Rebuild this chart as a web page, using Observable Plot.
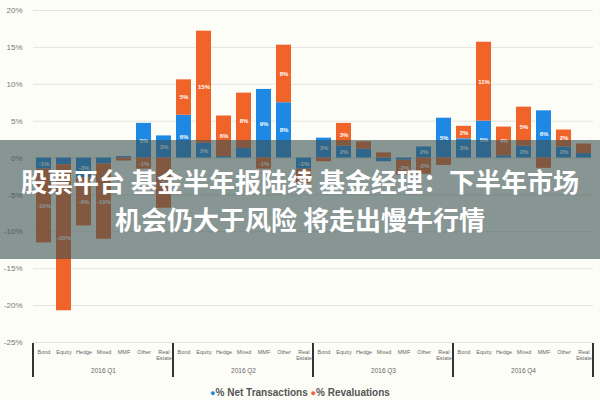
<!DOCTYPE html>
<html><head><meta charset="utf-8">
<script src="https://cdn.jsdelivr.net/npm/d3@7"></script>
<script src="https://cdn.jsdelivr.net/npm/@observablehq/plot@0.6"></script>
<style>
body{margin:0;background:#fdfdf8;width:600px;height:400px;overflow:hidden;position:relative;font-family:"Liberation Sans",Arial,sans-serif}
#chart{position:absolute;left:0;top:0}
#band{position:absolute;left:0;top:140px;width:600px;height:119px;background:rgba(57,80,80,0.6);color:#fff;font-family:"Noto Sans CJK SC",sans-serif;font-weight:700;font-size:26px;line-height:38px;text-align:center;display:flex;flex-direction:column;justify-content:center}
#legend{position:absolute;left:0;top:386px;width:600px;text-align:center;font-size:10px;font-weight:bold;color:#555;line-height:14px}
#legend .dot{font-size:9px}
</style></head><body>
<div id="chart"></div>
<div id="legend"></div>
<div id="band"><div>股票平台 基金半年报陆续 基金经理：下半年市场</div><div>机会仍大于风险 将走出慢牛行情</div></div>
<script>
const quarters = ["2016 Q1", "2016 Q2", "2016 Q3", "2016 Q4"];
const categories = ["Bond", "Equity", "Hedge", "Mixed", "MMF", "Other", "Real Estate"];
const seriesNames = ["% Net Transactions", "% Revaluations"];
// values in percent, one row per quarter, one entry per category
const netTransactions = [
  [-1.5, -0.9, -2.7, -0.8, 0.2, 4.7, 3.0],
  [5.8, 2.0, 0.2, 1.3, 9.3, 7.5, -1.5],
  [2.7, 1.6, 1.2, -0.5, -0.3, 1.5, 5.4],
  [2.6, 5.0, 0.3, 1.6, 6.4, 1.5, 0.6]
];
const revaluations = [
  [-10.0, -19.8, -6.5, -10.2, -0.4, -1.5, -6.8],
  [4.8, 15.2, 5.5, 7.5, -1.5, 7.8, -2.0],
  [-0.5, 3.1, 1.0, 0.7, -2.0, -2.2, -1.0],
  [1.7, 10.7, 3.9, 5.3, -1.4, 2.3, 1.3]
];
const yTicks = [-25, -20, -15, -10, -5, 0, 5, 10, 15, 20];
const colors = ["#1e88e5", "#f0642a"];

const rows = [];
quarters.forEach((q, i) => categories.forEach((c, j) => {
  rows.push({quarter: q, category: c, series: seriesNames[0], value: netTransactions[i][j]});
  rows.push({quarter: q, category: c, series: seriesNames[1], value: revaluations[i][j]});
}));

const chart = Plot.plot({
  width: 600, height: 384,
  marginTop: 10, marginBottom: 42, marginLeft: 33, marginRight: 7,
  style: {background: "transparent", fontFamily: "Liberation Sans, Arial, sans-serif", color: "#777"},
  fx: {domain: quarters, padding: 0, label: null, axis: null},
  x: {domain: categories, paddingInner: 0.25, paddingOuter: 0.125, label: null, axis: null},
  y: {domain: [-25, 20], label: null, axis: null},
  color: {domain: seriesNames, range: colors},
  marks: [
    Plot.gridY(yTicks, {stroke: "#e4e4dc", strokeOpacity: 1}),
    Plot.axisY(yTicks, {tickSize: 0, tickPadding: 11, tickFormat: d => d + "%", fontSize: 8, fill: "#777"}),
    Plot.barY(rows, Plot.stackY({fx: "quarter", x: "category", y: "value", fill: "series"})),
    Plot.text(rows, Plot.stackY({
      fx: "quarter", x: "category", y: "value",
      text: d => Math.abs(d.value) >= 1.5 ? Math.round(d.value) + "%" : "",
      fill: "white", fontSize: 6, fontWeight: "bold"
    })),
    Plot.axisX({tickSize: 0, tickPadding: 8, fontSize: 5.5, fill: "#666",
      tickFormat: d => d === "Real Estate" ? "Real\nEstate" : d}),
    Plot.axisFx({anchor: "bottom", tickSize: 0, tickPadding: 26, fontSize: 6.5, fill: "#666", label: null})
  ]
});

// group separators at facet edges
const fx = chart.scale("fx");
const ys = chart.scale("y");
const edges = quarters.map(q => fx.apply(q)).concat([fx.apply(quarters[quarters.length - 1]) + fx.bandwidth]);
const y1 = ys.apply(-25) + 1;
d3.select(chart).append("g")
  .selectAll("line").data(edges).join("line")
  .attr("x1", d => d).attr("x2", d => d)
  .attr("y1", y1).attr("y2", y1 + 34)
  .attr("stroke", "#333").attr("stroke-width", 2);

document.getElementById("chart").append(chart);

const legend = document.getElementById("legend");
legend.innerHTML = seriesNames.map((s, i) =>
  `<span class="dot" style="color:${colors[i]}">●</span>${s}`).join(" ");
</script>
</body></html>
